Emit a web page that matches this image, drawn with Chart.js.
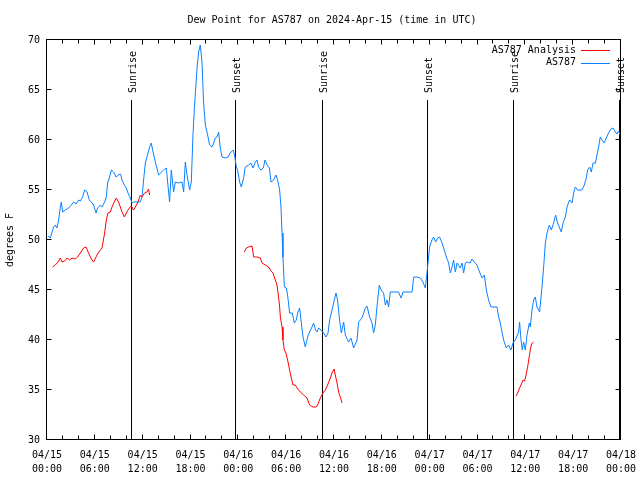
<!DOCTYPE html>
<html>
<head>
<meta charset="utf-8">
<script src="https://cdn.jsdelivr.net/npm/chart.js@4/dist/chart.umd.min.js"></script>
<style>
html,body{margin:0;padding:0;background:#fff;}
#c{display:block;width:640px;height:480px;}
</style>
</head>
<body>
<canvas id="c" width="640" height="480"></canvas>
<script>
// ---- data (hours since 2024-04-15 00:00 UTC) ----
const chartTitle = 'Dew Point for AS787 on 2024-Apr-15 (time in UTC)';
const yAxisTitle = 'degrees F';
const seriesNames = ['AS787 Analysis', 'AS787'];

const xTickDates = ['04/15','04/15','04/15','04/15','04/16','04/16','04/16','04/16','04/17','04/17','04/17','04/17','04/18'];
const xTickTimes = ['00:00','06:00','12:00','18:00','00:00','06:00','12:00','18:00','00:00','06:00','12:00','18:00','00:00'];

const sunHours  = [10.61, 23.62, 34.57, 47.74, 58.53, 71.83];
const sunLabels = ['Sunrise','Sunset','Sunrise','Sunset','Sunrise','Sunset'];

const obsHours = [0.13,0.41,0.83,1.04,1.25,1.46,1.67,1.79,1.96,2.30,2.71,3.05,3.34,3.64,3.96,4.18,4.47,4.72,5.02,5.31,5.56,5.85,6.15,6.35,6.69,6.90,7.23,7.44,7.60,7.85,8.07,8.35,8.66,8.98,9.23,9.41,9.70,9.95,10.16,10.45,10.66,10.86,11.70,11.92,12.12,12.33,12.54,12.83,13.08,13.25,13.59,14.00,14.63,14.97,15.13,15.38,15.59,15.88,16.09,16.51,16.93,17.14,17.35,17.56,17.89,18.10,18.31,18.51,18.82,19.02,19.23,19.44,19.64,19.86,20.15,20.40,20.70,20.90,21.11,21.32,21.53,21.74,21.95,22.37,22.70,22.99,23.33,23.53,23.75,23.91,24.16,24.37,24.66,24.87,25.29,25.59,25.84,26.13,26.34,26.54,26.84,27.13,27.35,27.60,27.89,28.10,28.42,28.73,28.93,29.18,29.35,29.48,29.60,29.77,30.02,30.18,30.43,30.77,31.02,31.27,31.44,31.69,31.86,32.11,32.40,32.69,32.94,33.24,33.44,33.69,33.87,34.07,34.37,34.70,35.00,35.25,35.45,35.75,36.04,36.25,36.45,36.70,36.92,37.21,37.42,37.83,38.13,38.46,38.89,39.09,39.51,39.93,40.14,40.47,40.77,40.97,41.18,41.39,41.68,41.90,42.22,42.44,42.65,42.85,43.06,44.10,44.40,44.66,45.79,45.99,46.41,46.83,47.16,47.45,47.66,47.79,47.99,48.29,48.49,48.75,49.00,49.25,49.55,49.84,50.09,50.38,50.59,50.80,51.00,51.22,51.43,51.63,51.84,52.06,52.26,52.47,52.76,53.09,53.31,53.60,53.94,54.26,54.57,54.86,55.11,55.39,55.69,56.45,56.65,56.86,57.07,57.28,57.61,57.90,58.20,58.45,58.74,59.16,59.28,59.46,59.62,59.78,60.00,60.21,60.50,60.62,60.84,61.04,61.25,61.46,61.79,62.09,62.29,62.51,62.72,63.01,63.26,63.55,63.80,64.05,64.30,64.51,64.73,65.02,65.23,65.55,65.86,66.06,66.27,66.56,67.11,67.40,67.65,67.81,68.06,68.28,68.49,68.78,68.99,69.19,69.40,69.61,69.90,70.15,70.44,70.74,70.99,71.28,71.50,71.70,71.91];
const obsValues = [50.4,50.2,51.3,51.5,51.2,52.0,53.3,53.8,52.8,53.0,53.2,53.5,53.8,53.6,54.0,53.9,54.3,55.0,54.8,54.0,53.8,53.5,52.7,53.2,53.5,53.3,53.8,54.3,55.7,56.3,57.0,56.8,56.3,56.5,56.6,56.0,55.5,55.2,54.7,54.2,53.7,53.8,53.8,54.3,56.0,57.7,58.3,59.2,59.7,59.0,57.8,56.5,57.0,57.2,55.8,53.8,57.0,54.8,55.8,55.7,55.8,54.8,57.8,56.5,55.0,55.8,60.5,63.5,67.2,68.8,69.5,67.8,63.8,61.5,60.5,59.5,59.3,59.7,60.2,60.3,60.8,59.2,58.3,58.2,58.3,58.7,59.0,58.5,57.3,57.0,55.8,55.3,56.2,57.3,57.5,57.7,57.2,57.8,58.0,57.3,57.0,57.2,58.0,57.5,57.2,55.8,56.0,56.5,56.0,55.0,53.3,50.7,48.3,45.3,45.2,44.5,42.7,42.7,41.7,42.0,42.7,43.2,42.0,40.3,39.3,40.3,40.8,41.3,41.7,41.0,40.8,41.2,41.0,40.7,40.3,40.7,42.0,43.0,44.0,44.7,44.0,42.0,40.7,41.8,40.5,39.8,40.2,39.2,40.0,41.8,42.2,43.2,43.4,42.3,41.7,40.7,41.5,43.3,45.5,45.0,44.7,43.5,44.0,43.3,44.8,44.8,44.2,44.8,44.8,46.3,46.3,46.2,45.8,45.2,46.7,47.7,49.3,50.0,50.3,49.8,50.2,50.3,49.7,49.0,48.3,47.7,46.7,47.3,48.0,46.8,47.7,47.5,47.2,47.7,46.7,47.7,47.8,47.7,48.1,47.8,47.5,46.8,46.2,46.5,45.0,44.0,43.3,43.3,42.3,41.7,40.8,40.0,39.2,39.5,39.0,39.7,40.0,40.8,41.8,40.0,39.0,39.8,39.0,40.5,41.7,41.3,43.0,44.0,44.3,43.3,42.8,45.3,47.2,49.7,50.7,51.5,51.0,51.7,52.5,51.7,51.2,50.8,51.7,52.3,53.3,54.0,53.7,54.7,55.3,55.0,55.0,55.5,56.2,57.0,57.3,56.8,57.7,57.7,58.5,59.3,60.3,60.0,59.7,60.2,60.7,61.1,61.2,60.8,60.6,60.9,60.5];

const anaHours = [0.70,1.04,1.38,1.67,1.88,2.21,2.51,2.83,3.14,3.55,3.84,4.18,4.59,4.89,5.22,5.56,5.85,6.27,6.69,6.90,7.23,7.44,7.65,7.94,8.15,8.44,8.69,8.98,9.41,9.70,9.95,10.24,10.57,10.86,11.08,11.42,11.70,11.92,12.24,12.54,12.74,12.87,
  18.0,
  24.75,25.00,25.29,25.72,25.92,26.34,26.76,26.97,27.38,27.80,28.01,28.35,28.64,28.85,29.05,29.18,29.27,29.48,29.60,29.77,29.98,30.18,30.43,30.65,30.86,31.15,31.36,31.77,32.19,32.61,32.94,33.37,33.78,33.94,34.28,34.62,34.91,35.20,35.54,35.75,36.00,36.16,36.38,36.58,36.79,37.00,
  48.0,
  58.83,59.03,59.28,59.46,59.71,59.91,60.09,60.29,60.46,60.62,60.75,60.87,61.04];
const anaValues = [47.3,47.5,47.8,48.2,47.8,47.9,48.2,48.0,48.2,48.1,48.3,48.7,49.2,49.3,48.7,48.1,47.8,48.5,49.0,49.2,50.7,52.0,52.7,52.8,53.3,53.8,54.2,53.8,52.8,52.3,52.7,53.1,53.4,53.0,53.3,53.8,54.5,54.3,54.7,54.8,55.1,54.5,
  null,
  48.8,49.2,49.3,49.4,48.3,48.3,48.2,47.7,47.5,47.3,47.0,46.7,46.0,45.5,44.3,43.3,42.3,41.3,40.0,39.0,38.7,38.0,37.0,36.2,35.5,35.5,35.2,34.8,34.5,34.2,33.5,33.3,33.3,33.5,34.2,34.7,35.0,35.5,36.2,36.7,37.1,36.5,35.7,34.8,34.3,33.7,
  null,
  34.4,34.7,35.2,35.5,36.0,35.9,36.5,37.3,38.2,39.0,39.5,39.7,39.8];

// ---- chart ----
const FONT = 'DejaVu Sans Mono';
const RED = '#ff0000';
const BLUE = '#0a80ff';

const decorPlugin = {
  id: 'decor',
  beforeDatasetsDraw(chart) {
    const {ctx, chartArea: a, scales: {x, y}} = chart;
    ctx.save();
    ctx.strokeStyle = '#000';
    ctx.lineWidth = 1;
    ctx.fillStyle = '#000';
    ctx.font = '10px ' + FONT;
    const yTop = y.getPixelForValue(64);
    sunHours.forEach((h, i) => {
      const px = Math.floor(x.getPixelForValue(h)) + 0.5;
      ctx.beginPath();
      ctx.moveTo(px, yTop);
      ctx.lineTo(px, a.bottom);
      ctx.stroke();
      ctx.save();
      ctx.translate(px + 1.5, yTop - 7);
      ctx.rotate(-Math.PI / 2);
      ctx.textAlign = 'left';
      ctx.textBaseline = 'middle';
      ctx.fillText(sunLabels[i], 0, 0);
      ctx.restore();
    });
    ctx.restore();
  },
  afterDatasetsDraw(chart) {
    const {ctx, chartArea: a, scales: {x, y}} = chart;
    ctx.save();
    ctx.strokeStyle = '#000';
    ctx.lineWidth = 1;
    const L = Math.round(a.left) - 0.5, R = Math.round(a.right) - 0.5;
    const T = Math.round(a.top) - 0.5, B = Math.round(a.bottom) - 0.5;
    ctx.strokeRect(L, T, R - L, B - T);
    ctx.beginPath();
    for (let v = 30; v <= 70; v += 5) {
      const py = Math.round(y.getPixelForValue(v)) - 0.5;
      ctx.moveTo(L, py); ctx.lineTo(L + 5, py);
      ctx.moveTo(R, py); ctx.lineTo(R - 5, py);
    }
    for (let h = 0; h <= 72; h += 2) {
      const px = Math.round(x.getPixelForValue(h)) - 0.5;
      const len = (h % 6 === 0) ? 5 : 4;
      ctx.moveTo(px, B); ctx.lineTo(px, B - len);
      ctx.moveTo(px, T); ctx.lineTo(px, T + len);
    }
    ctx.stroke();

    // title
    ctx.fillStyle = '#000';
    ctx.font = '10px ' + FONT;
    ctx.textAlign = 'center';
    ctx.textBaseline = 'middle';
    ctx.fillText(chartTitle, 332, 20);

    // y axis title
    ctx.save();
    ctx.translate(10, 240);
    ctx.rotate(-Math.PI / 2);
    ctx.fillText(yAxisTitle, 0, 0);
    ctx.restore();

    // legend
    const colors = [RED, BLUE];
    seriesNames.forEach((name, i) => {
      const ly = 50 + i * 12.5;
      ctx.textAlign = 'right';
      ctx.fillStyle = '#000';
      ctx.fillText(name, 576, ly);
      ctx.strokeStyle = colors[i];
      ctx.beginPath();
      ctx.moveTo(581, Math.round(ly) + 0.5);
      ctx.lineTo(610, Math.round(ly) + 0.5);
      ctx.stroke();
    });
    ctx.restore();
  }
};

new Chart(document.getElementById('c'), {
  type: 'line',
  data: {
    datasets: [
      {
        label: seriesNames[0],
        data: anaHours.map((h, i) => ({x: h, y: anaValues[i]})),
        borderColor: RED, borderWidth: 1, pointRadius: 0, tension: 0, spanGaps: false, fill: false
      },
      {
        label: seriesNames[1],
        data: obsHours.map((h, i) => ({x: h, y: obsValues[i]})),
        borderColor: BLUE, borderWidth: 1, pointRadius: 0, tension: 0, spanGaps: false, fill: false
      }
    ]
  },
  options: {
    responsive: false,
    animation: false,
    events: [],
    layout: {padding: {left: 0, right: 19, top: 40, bottom: 0}},
    plugins: {legend: {display: false}, title: {display: false}, tooltip: {enabled: false}},
    scales: {
      x: {
        type: 'linear', min: 0, max: 72,
        afterFit(s) { s.height = 40; s.paddingLeft = 0; s.paddingRight = 0; },
        grid: {display: false, drawTicks: false},
        border: {display: false},
        ticks: {
          stepSize: 6, autoSkip: false, maxRotation: 0, minRotation: 0, padding: 8,
          color: '#000', font: {family: FONT, size: 10, lineHeight: 1.4},
          callback: (v, i) => [xTickDates[i], xTickTimes[i]]
        }
      },
      y: {
        min: 30, max: 70,
        afterFit(s) { s.width = 47; s.paddingTop = 0; s.paddingBottom = 0; },
        grid: {display: false, drawTicks: false},
        border: {display: false},
        ticks: {stepSize: 5, padding: 7, color: '#000', font: {family: FONT, size: 10}}
      }
    }
  },
  plugins: [decorPlugin]
});
</script>
</body>
</html>
